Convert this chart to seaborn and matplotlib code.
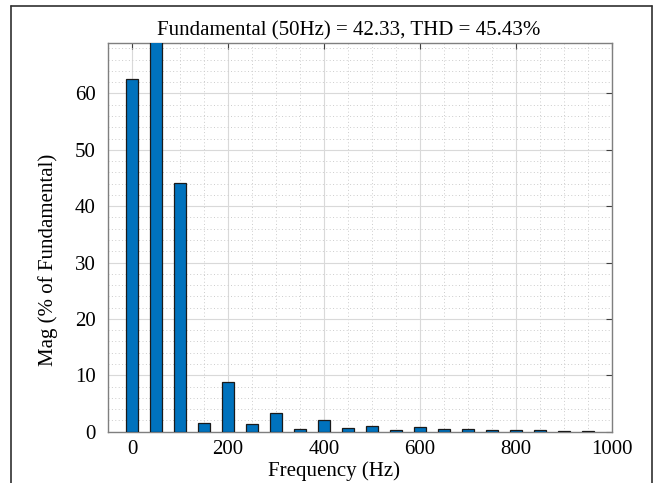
import matplotlib
matplotlib.use("Agg")
import matplotlib.pyplot as plt
from matplotlib.ticker import MultipleLocator
from matplotlib.lines import Line2D
import seaborn as sns
import pandas as pd
import numpy as np

# Data
freqs = [0, 50, 100, 150, 200, 250, 300, 350, 400, 450,
         500, 550, 600, 650, 700, 750, 800, 850, 900, 950]
mags = [62.5, 100.0, 44.2, 1.5, 8.9, 1.3, 3.4, 0.5, 2.1, 0.7,
        1.05, 0.35, 0.9, 0.55, 0.55, 0.35, 0.35, 0.35, 0.2, 0.2]
title_text = "Fundamental (50Hz) = 42.33, THD = 45.43%"
xlabel_text = "Frequency (Hz)"
ylabel_text = "Mag (% of Fundamental)"
xticks = [0, 200, 400, 600, 800, 1000]
yticks = [0, 10, 20, 30, 40, 50, 60]

df = pd.DataFrame({"freq": freqs, "mag": mags})

sns.set_theme(style="white")
plt.rcParams['font.family'] = ['Liberation Serif', 'DejaVu Serif']

fig = plt.figure(figsize=(6.58, 4.83), dpi=100)
ax = fig.add_axes([108 / 658, 1 - 431.7 / 483, 504 / 658, 389 / 483])

sns.barplot(data=df, x="freq", y="mag", native_scale=True, width=0.5,
            color="#0072BD", saturation=1, edgecolor="#1a1a1a", linewidth=0.9,
            ax=ax, zorder=3)

ax.set_xlim(-50, 1000)
ax.set_ylim(0, 69)
ax.set_xticks(xticks)
ax.set_xticklabels([str(t) for t in xticks])
ax.set_yticks(yticks)
ax.set_yticklabels([str(t) for t in yticks])
ax.xaxis.set_minor_locator(MultipleLocator(50))
ax.yaxis.set_minor_locator(MultipleLocator(2))

ax.grid(True, which="major", color="#d9d9d9", linewidth=0.8, linestyle="-", zorder=0)
ax.grid(True, which="minor", color="#cccccc", linewidth=0.7, linestyle=(0, (1, 2.5)), zorder=0)
ax.set_axisbelow(True)

ax.tick_params(axis="x", which="major", pad=6)
ax.tick_params(axis="y", which="major", pad=9)
ax.tick_params(axis="both", which="major", direction="in", length=4, width=0.8,
               color="#404040", labelsize=15, top=True, right=True,
               labelcolor="black")
ax.tick_params(axis="both", which="minor", length=0)
for s in ax.spines.values():
    s.set_color("#7f7f7f")
    s.set_linewidth(1.0)
    s.set_visible(True)

ax.set_xlabel(xlabel_text, fontsize=15, color="black")
ax.set_ylabel(ylabel_text, fontsize=15, color="black")
ax.xaxis.set_label_coords((334 - 108) / 504, -0.075)
ax.yaxis.set_label_coords((58 - 108) / 504, (431.7 - 260) / 389)
ax.set_title(title_text, fontsize=15, pad=5, color="black",
             x=(349 - 108) / 504)

# Outer figure frame
frame_kw = dict(transform=fig.transFigure, color="#303030", linewidth=1.2)
x0, x1 = 10.5 / 658, 651.5 / 658
y_top = 1 - 5.5 / 483
fig.lines.append(Line2D([x0, x1], [y_top, y_top], **frame_kw))
fig.lines.append(Line2D([x0, x0], [0, y_top], **frame_kw))
fig.lines.append(Line2D([x1, x1], [0, y_top], **frame_kw))

fig.savefig("out.png", dpi=100)
